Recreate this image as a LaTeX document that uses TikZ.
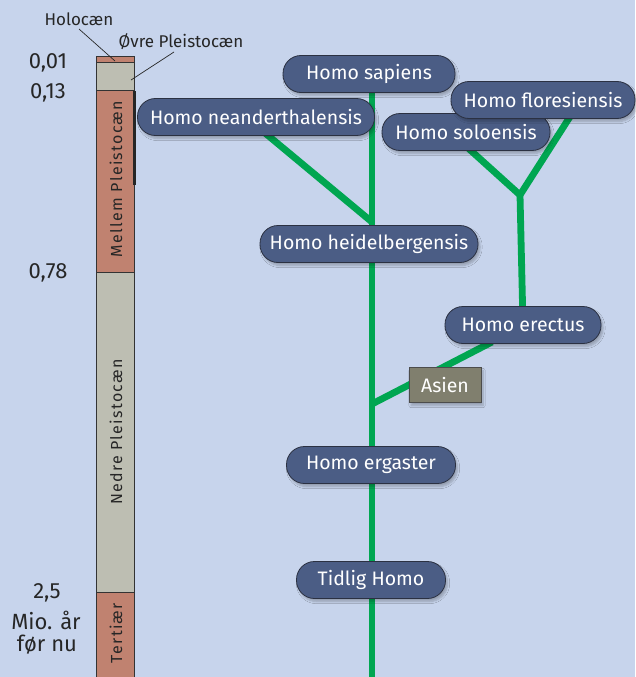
\documentclass[tikz,border=0pt]{standalone}
\usepackage{fontspec}
\setmainfont{Fira Sans}
\usetikzlibrary{shadows.blur,backgrounds}
\definecolor{bg}{HTML}{C7D4EC}
\definecolor{pill}{HTML}{4B5D85}
\definecolor{pilledge}{HTML}{2B3142}
\definecolor{branch}{HTML}{00A651}
\definecolor{redseg}{HTML}{C08270}
\definecolor{grayseg}{HTML}{BDBEB2}
\definecolor{asienfill}{HTML}{807F6E}
\tikzset{
  species/.style={draw=pilledge, line width=0.8pt, fill=pill, text=white, rounded corners=18pt,
    minimum height=37pt, inner sep=0pt, font=\fontsize{19.5}{19.5}\selectfont,
    blur shadow={shadow xshift=2pt, shadow yshift=-3pt, shadow blur steps=6, shadow opacity=25}},
  region/.style={draw=black!70, line width=0.8pt, fill=asienfill, text=white, minimum height=35pt,
    inner sep=0pt, font=\fontsize{19.5}{19.5}\selectfont,
    blur shadow={shadow xshift=2pt, shadow yshift=-3pt, shadow blur steps=6, shadow opacity=25}},
  seg/.style={draw=black!80, line width=1pt},
  gline/.style={draw=branch, line width=6.8pt},
  agelabel/.style={font=\fontsize{22}{22}\selectfont, text=black!85},
  eralabel/.style={font=\fontsize{17}{17}\selectfont, text=black!85},
  barlabel/.style={rotate=90, font=\fontsize{16}{16}\selectfont\addfontfeatures{LetterSpace=8}, text=black!85},
  leader/.style={draw=black!85, line width=0.7pt}
}
\begin{document}
\begin{tikzpicture}[x=1pt,y=-1pt]
\useasboundingbox (0,0) rectangle (635,677);

% timeline bar
\draw[seg, fill=redseg] (96,57) rectangle (134,63);
\draw[seg, fill=grayseg] (96,63) rectangle (134,90);
\draw[seg, fill=redseg] (96,90) rectangle (134,272);
\draw[seg, fill=grayseg] (96,272) rectangle (134,592);
\draw[seg, fill=redseg] (96,592) rectangle (134,680);
\draw[black!85, line width=2.2pt] (134.5,91) -- (134.5,185);

\node[barlabel] (mellem) at (116,179) {Mellem Pleistocæn};
\node[barlabel] (nedre) at (116,432) {Nedre Pleistocæn};
\node[barlabel] (tertiaer) at (116,633) {Tertiær};

\node[agelabel] (a001) at (48,63) {0,01};
\node[agelabel] (a013) at (48,93) {0,13};
\node[agelabel] (a078) at (48,273) {0,78};
\node[agelabel] (a25) at (47,593) {2,5};
\node[agelabel] (mio) at (46,620) {Mio. år};
\node[agelabel] (foer) at (47,645) {før nu};

\node[eralabel] (holo) at (79,19) {Holocæn};
\node[eralabel] (ovre) at (181,42) {Øvre Pleistocæn};
\coordinate (holostart) at (79,29);
\coordinate (holoend) at (115,61);
\coordinate (ovrestart) at (174,52);
\coordinate (ovreend) at (131,80);
\draw[leader] (holostart) -- (holoend);
\draw[leader] (ovrestart) -- (ovreend);

% nodes
\node[species, minimum width=172pt] (sapiens) at (369,74) {Homo sapiens};
\node[species, minimum width=237pt] (neand) at (256,117) {Homo neanderthalensis};
\node[species, minimum width=168pt] (solo) at (466,132) {Homo soloensis};
\node[species, minimum width=184pt] (flores) at (543,100) {Homo floresiensis};
\node[species, minimum width=218pt] (heidel) at (369,244) {Homo heidelbergensis};
\node[species, minimum width=156pt] (erectus) at (523,325) {Homo erectus};
\node[region, minimum width=72pt] (asien) at (445,385) {Asien};
\node[species, minimum width=169pt] (ergaster) at (371,465) {Homo ergaster};
\node[species, minimum width=149pt] (tidlig) at (371,580) {Tidlig Homo};

% branch coordinates
\coordinate (top) at (372,80);
\coordinate (bottom) at (372,680);
\coordinate (jneand) at (372,222);
\coordinate (neandend) at (265,133);
\coordinate (jy) at (520,195);
\coordinate (soloend) at (468,148);
\coordinate (floresend) at (573,112);
\coordinate (jasien) at (372,404);
\coordinate (erectusend) at (492,342);

\begin{scope}[on background layer]
  \fill[bg] (0,0) rectangle (635,677);
  \draw[gline] (top) -- (bottom);
  \draw[gline] (jneand) -- (neandend);
  \draw[gline] (erectus.center) -- (jy);
  \draw[gline] (jy) -- (soloend);
  \draw[gline] (jy) -- (floresend);
  \draw[gline] (jasien) -- (erectusend);
\end{scope}
\end{tikzpicture}
\end{document}
